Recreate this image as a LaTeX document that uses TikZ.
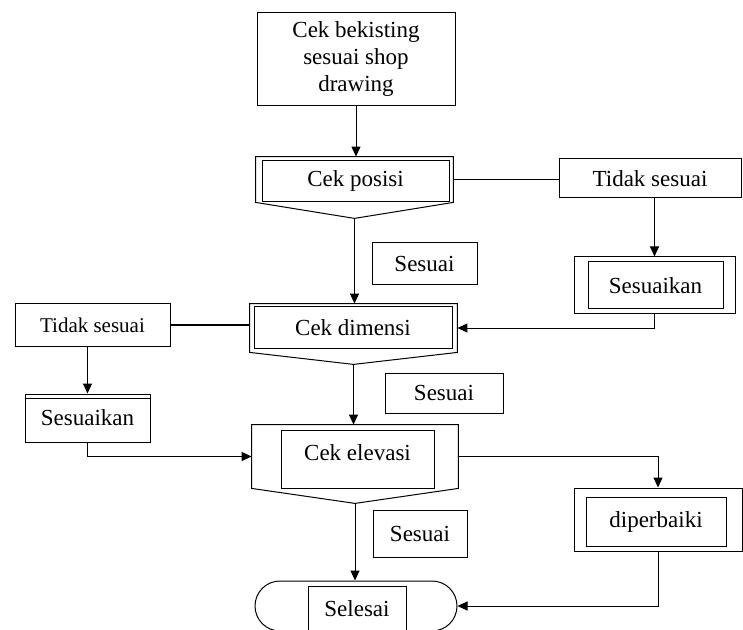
\documentclass[tikz,border=0pt]{standalone}
\usepackage{fontspec}
\setmainfont{Liberation Serif}
\usepackage{tikz}
\usetikzlibrary{arrows.meta,calc,shapes.misc}

\begin{document}
\begin{tikzpicture}[
  x=0.5pt,
  y=-0.5pt,
  font=\fontsize{11.5}{13.5}\selectfont,
  box/.style={draw, line width=0.5pt, align=center, inner sep=0pt},
  holder/.style={inner sep=0pt},
  link/.style={draw, line width=0.5pt},
  flow/.style={-{Triangle[length=5pt,width=4.5pt]}, draw, line width=0.5pt}
]
\clip (0,0) rectangle (743,630);

% Start
\node[box, minimum width=99pt, minimum height=46.5pt] (bekisting) at (356,59.5)
      {Cek bekisting\\sesuai shop\\drawing};

% Cek posisi
\node[holder, minimum width=98.5pt, minimum height=22.5pt] (posisi) at (354.5,179.5) {};
\coordinate (posisitip) at ($(posisi.south)+(0,16)$);
\draw[link] (posisi.north west) -- (posisi.north east) -- (posisi.south east)
      -- (posisitip) -- (posisi.south west) -- cycle;
\node[box, minimum width=93.5pt, minimum height=20.5pt] (posisiin) at (355.5,181)
      {Cek posisi};

\draw[flow] (bekisting.south) -- (bekisting.south |- posisi.north);

\node[box, minimum width=91pt, minimum height=19.5pt] (tidakkanan) at (650,178.5)
      {Tidak sesuai};
\node[box, minimum width=80.5pt, minimum height=28.5pt] (sesuaikankanan) at (654.5,285.5) {};
\node[box, minimum width=67.5pt, minimum height=23.5pt] (sesuaikankananin) at (655.5,285.5)
      {Sesuaikan};
\node[box, minimum width=52.5pt, minimum height=21pt] (sesuaiatas) at (424.5,264) {Sesuai};

\draw[link] (posisi.east) -- (posisi.east -| tidakkanan.west);
\draw[flow] (sesuaikankanan.north |- tidakkanan.south) -- (sesuaikankanan.north);

% Cek dimensi
\node[holder, minimum width=103.5pt, minimum height=24pt] (dimensi) at (353.5,328) {};
\coordinate (dimensitip) at ($(dimensi.south)+(0,12)$);
\draw[link] (dimensi.north west) -- (dimensi.north east) -- (dimensi.south east)
      -- (dimensitip) -- (dimensi.south west) -- cycle;
\node[box, minimum width=99pt, minimum height=20.5pt] (dimensiin) at (353,327.5)
      {Cek dimensi};

\draw[flow] (posisitip) -- (posisitip |- dimensi.north);
\draw[flow] (sesuaikankanan.south) |- (dimensi.east);

\node[box, minimum width=77.5pt, minimum height=21pt, font=\fontsize{10.5}{12.5}\selectfont]
      (tidakkiri) at (92.5,325) {Tidak sesuai};
\node[box, minimum width=62.5pt, minimum height=24pt] (sesuaikankiri) at (87.5,418)
      {Sesuaikan};
\draw[link] ($(sesuaikankiri.north west)+(0,5)$) -- ($(sesuaikankiri.north east)+(0,5)$);
\node[box, minimum width=59pt, minimum height=20pt] (sesuaitengah) at (444,393) {Sesuai};

\draw[link] (tidakkiri.east) -- (tidakkiri.east -| dimensi.west);
\draw[flow] (sesuaikankiri.north |- tidakkiri.south) -- (sesuaikankiri.north);

% Cek elevasi
\node[holder, minimum width=103pt, minimum height=31.5pt] (elevasi) at (355,456.5) {};
\coordinate (elevasitip) at ($(elevasi.south)+(0,15)$);
\draw[link] (elevasi.north west) -- (elevasi.north east) -- (elevasi.south east)
      -- (elevasitip) -- (elevasi.south west) -- cycle;
\node[box, minimum width=76.5pt, text height=15pt, text depth=14pt] (elevasiin)
      at (357.5,459) {Cek elevasi};

\draw[flow] (dimensitip) -- (dimensitip |- elevasi.north);
\draw[flow] (sesuaikankiri.south) |- (elevasi.west);

\node[box, minimum width=84pt, minimum height=31.5pt] (diperbaiki) at (658,519.5) {};
\node[box, minimum width=70pt, minimum height=24.5pt] (diperbaikiin) at (656,521.5)
      {diperbaiki};
\node[box, minimum width=47pt, minimum height=23.5pt] (sesuaibawah) at (420,533.5) {Sesuai};

\draw[flow] (elevasi.east) -| (diperbaiki.north);

% End
\node[box, rounded rectangle, minimum width=101pt, minimum height=25pt] (selesai)
      at (356,606) {};
\node[box, minimum width=49pt, minimum height=23pt] (selesaiin) at (357,609) {Selesai};

\draw[flow] (elevasitip) -- (elevasitip |- selesai.north);
\draw[flow] (diperbaiki.south) |- (selesai.east);
\end{tikzpicture}
\end{document}
